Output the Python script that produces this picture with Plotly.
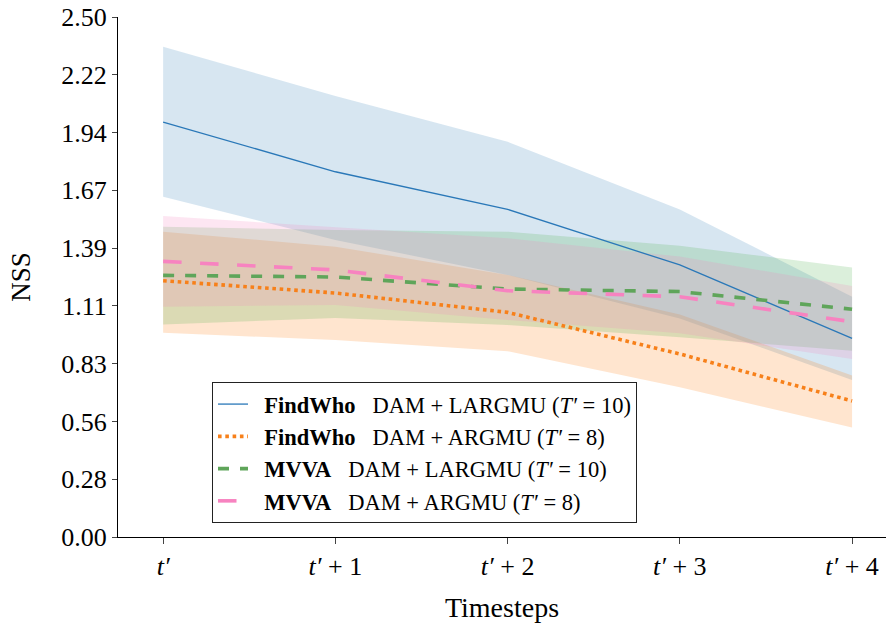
import plotly.graph_objects as go
import numpy as np

steps = [0, 1, 2, 3, 4]
step_labels = ["<i>t′</i>", "<i>t′</i> + 1", "<i>t′</i> + 2", "<i>t′</i> + 3", "<i>t′</i> + 4"]

# FindWho  DAM + LARGMU (T'=10)
fw_largmu_mean = [1.995, 1.756, 1.575, 1.308, 0.955]
fw_largmu_upper = [2.357, 2.120, 1.900, 1.575, 1.155]
fw_largmu_lower = [1.636, 1.428, 1.260, 1.050, 0.755]

# FindWho  DAM + ARGMU (T'=8)
fw_argmu_mean = [1.232, 1.173, 1.080, 0.880, 0.654]
fw_argmu_upper = [1.468, 1.396, 1.260, 1.070, 0.776]
fw_argmu_lower = [0.982, 0.947, 0.893, 0.720, 0.526]

# MVVA  DAM + LARGMU (T'=10)
mv_largmu_mean = [1.258, 1.250, 1.192, 1.180, 1.095]
mv_largmu_upper = [1.492, 1.476, 1.468, 1.400, 1.296]
mv_largmu_lower = [1.022, 1.053, 1.019, 0.960, 0.896]

# MVVA  DAM + ARGMU (T'=8)
mv_argmu_mean = [1.325, 1.284, 1.184, 1.155, 1.035]
mv_argmu_upper = [1.543, 1.490, 1.436, 1.348, 1.207]
mv_argmu_lower = [1.107, 1.115, 1.043, 0.980, 0.856]

y_tick_vals = list(np.linspace(0, 2.5, 10))
y_tick_text = [f"{v:.2f}" for v in y_tick_vals]

SP = "\u00a0\u00a0\u00a0"
LEAD = "\u00a0\u00a0"
series = [
    dict(name=f"{LEAD}<b>FindWho</b>{SP}DAM + LARGMU (<i>T′</i> = 10)", mean=fw_largmu_mean,
         up=fw_largmu_upper, lo=fw_largmu_lower, color="#2a78b8",
         fill="rgba(31,119,180,0.18)", width=1.3, dash="solid"),
    dict(name=f"{LEAD}<b>FindWho</b>{SP}DAM + ARGMU (<i>T′</i> = 8)", mean=fw_argmu_mean,
         up=fw_argmu_upper, lo=fw_argmu_lower, color="#f7801a",
         fill="rgba(255,127,14,0.2)", width=3.6, dash="3.6px,3.7px"),
    dict(name=f"{LEAD}<b>MVVA</b>{SP}DAM + LARGMU (<i>T′</i> = 10)", mean=mv_largmu_mean,
         up=mv_largmu_upper, lo=mv_largmu_lower, color="#5fa55a",
         fill="rgba(77,175,74,0.2)", width=3.6, dash="11px,11px"),
    dict(name=f"{LEAD}<b>MVVA</b>{SP}DAM + ARGMU (<i>T′</i> = 8)", mean=mv_argmu_mean,
         up=mv_argmu_upper, lo=mv_argmu_lower, color="#f783c0",
         fill="rgba(247,129,191,0.2)", width=3.6, dash="18.5px,18.5px"),
]

fig = go.Figure()
for s in series:
    fig.add_trace(go.Scatter(x=steps, y=s["up"], mode="lines", line=dict(width=0),
                             showlegend=False, hoverinfo="skip"))
    fig.add_trace(go.Scatter(x=steps, y=s["lo"], mode="lines", line=dict(width=0),
                             fill="tonexty", fillcolor=s["fill"], showlegend=False,
                             hoverinfo="skip"))
for i, s in enumerate(series):
    fig.add_trace(go.Scatter(x=steps, y=s["mean"], mode="lines", name=s["name"],
                             legendgroup=f"g{i}",
                             line=dict(color=s["color"], width=s["width"], dash=s["dash"])))

FONT = "Liberation Serif"
fig.update_layout(
    width=886, height=630,
    margin=dict(l=118, r=0, t=17, b=93),
    paper_bgcolor="white", plot_bgcolor="white",
    font=dict(family=FONT, size=26, color="black"),
    showlegend=True,
    legend=dict(x=0.1224, y=0.027, xanchor="left", yanchor="bottom",
                traceorder="normal",
                bgcolor="white", bordercolor="#222", borderwidth=1,
                font=dict(family=FONT, size=22.5, color="black"),
                tracegroupgap=1),
    xaxis=dict(range=[-0.262, 4.197], tickvals=steps, ticktext=step_labels,
               showgrid=False, zeroline=False, showline=True, linecolor="black",
               linewidth=1.2, ticks="outside", ticklen=6, tickcolor="#444",
               tickfont=dict(family=FONT, size=26),
               title=dict(text="Timesteps", font=dict(family=FONT, size=28), standoff=17)),
    yaxis=dict(range=[0, 2.5], tickvals=y_tick_vals, ticktext=y_tick_text,
               showgrid=False, zeroline=False, showline=True, linecolor="black",
               linewidth=1.2, ticks="outside", ticklen=5, tickcolor="#444",
               tickfont=dict(family=FONT, size=26),
               title=dict(text="NSS", font=dict(family=FONT, size=27), standoff=22)),
)

fig.write_html("out.html")
